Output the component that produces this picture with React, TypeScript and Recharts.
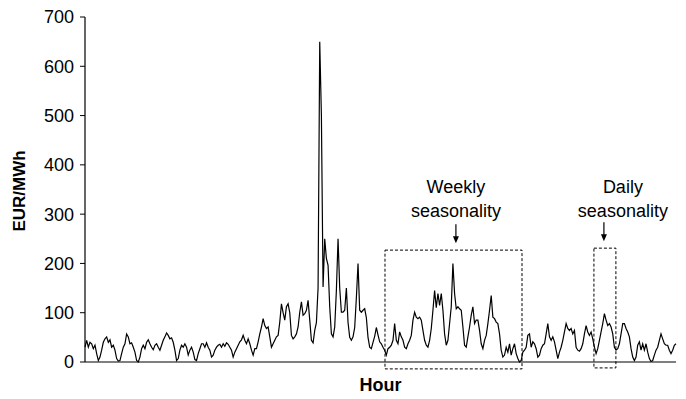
import { LineChart, Line, XAxis, YAxis, ReferenceArea, ReferenceDot } from "recharts";

// hourly prices, EUR/MWh in four stretches
const priceA = [
  30, 44, 30, 40, 37, 27, 34, 17, 3, 10, 24, 40, 47, 51, 40, 45, 30, 34, 24, 7,
  2, 3, 17, 30, 37, 57, 51, 37, 39, 30, 20, 3, 0, 10, 27, 34, 27, 40, 45, 37,
  30, 25, 34, 37, 30, 24, 34, 44, 51, 59, 54, 47, 49, 40, 24, 3, 7, 24, 34, 30,
  37, 30, 14, 24, 30, 20, 5, 3, 17, 27, 37, 37, 30, 39, 30, 24, 10, 14, 24, 30,
  34, 36, 30, 37, 32, 39, 36, 30, 24, 10, 20,
];
const priceB = [
  27, 34, 41, 45, 54, 44, 37, 47, 37, 24, 14, 27, 27, 41, 57, 71, 88, 74, 68, 71,
  51, 30, 37, 44, 51, 54, 81, 118, 100, 85, 112, 118, 100, 54, 47, 51, 57, 71, 101, 122,
  95, 98, 105, 125, 85, 44, 39, 64, 80, 150, 650, 500, 152, 250, 210, 196, 112, 57, 51, 71,
  145, 250, 150, 101, 101, 105, 150, 80, 50, 44, 51, 70, 130, 200, 105, 101, 105, 108, 90, 50,
  30, 27, 40, 52, 70, 55, 41, 37,
];
const priceC = [
  30, 24, 14, 27, 30, 34, 44, 78, 44, 37, 61, 51, 44, 30, 27, 37, 44, 54, 85, 101,
  91, 88, 91, 85, 64, 44, 34, 30, 44, 68, 105, 145, 110, 139, 115, 139, 105, 57, 34, 44,
  78, 112, 200, 139, 108, 112, 108, 105, 71, 34, 30, 51, 71, 95, 112, 78, 85, 85, 64, 37,
  27, 44, 54, 78, 105, 135, 91, 88, 81, 78, 57, 24, 10, 14, 30, 20, 37, 14, 27, 37,
  17, 7, 0, 3, 20, 24, 30, 54, 57,
];
const priceD = [
  30, 41, 37, 27, 10, 14, 27, 34, 37, 57, 78, 51, 44, 51, 41, 24, 7, 20, 30, 44,
  61, 78, 68, 64, 68, 57, 64, 30, 24, 22, 27, 37, 57, 74, 61, 54, 61, 47, 30, 17,
  27, 44, 61, 78, 98, 85, 74, 78, 71, 57, 30, 24, 27, 37, 57, 78, 78, 68, 61, 51,
  27, 10, 3, 10, 34, 41, 24, 37, 24, 37, 20, 7, 1, 3, 14, 24, 30, 44, 57, 47,
  37, 34, 34, 24, 17, 24, 34, 37,
];

const yTicks = [0, 100, 200, 300, 400, 500, 600, 700];

const prices = [...priceA, ...priceB, ...priceC, ...priceD];
const data = prices.map((p, h) => ({ hour: h, price: p }));
const lastHour = prices.length - 1;

const FONT = "'Liberation Sans', Arial, Helvetica, sans-serif";

function ArrowDown(props: any) {
  const { cx, cy } = props;
  return (
    <g>
      <line x1={cx} y1={cy - 19} x2={cx} y2={cy - 6} stroke="#000" strokeWidth={1.2} />
      <path d={`M${cx - 3},${cy - 7} L${cx + 3},${cy - 7} L${cx},${cy} Z`} fill="#000" />
    </g>
  );
}

function twoLines(top: string, bottom: string) {
  return (props: any) => {
    const { cx, cy } = props;
    return (
      <text textAnchor="middle" fontFamily={FONT} fontSize={18} fill="#000">
        <tspan x={cx} y={cy}>{top}</tspan>
        <tspan x={cx} y={cy + 24}>{bottom}</tspan>
      </text>
    );
  };
}

export default function App() {
  return (
    <div style={{ position: "absolute", left: 0, top: 0, background: "#fff" }}>
      <LineChart
        width={686}
        height={399}
        data={data}
        margin={{ top: 17, right: 10, bottom: 7, left: 0 }}
      >
        <XAxis
          dataKey="hour"
          type="number"
          domain={[0, lastHour]}
          tick={false}
          tickLine={false}
          height={30}
          axisLine={{ stroke: "#000", strokeWidth: 1.2 }}
          label={{
            value: "Hour",
            position: "insideBottom",
            offset: 1,
            fontFamily: FONT,
            fontSize: 18,
            fontWeight: "bold",
            fill: "#000",
          }}
        />
        <YAxis
          width={85}
          domain={[0, 700]}
          ticks={yTicks}
          tickSize={5}
          tickMargin={6}
          interval={0}
          axisLine={{ stroke: "#000", strokeWidth: 1.2 }}
          tickLine={{ stroke: "#000" }}
          tick={{ fill: "#000", fontSize: 18, fontFamily: FONT }}
          label={(p: any) => (
            <text
              x={25}
              y={191}
              transform="rotate(-90 25 191)"
              textAnchor="middle"
              fontFamily={FONT}
              fontSize={17}
              fontWeight="bold"
              fill="#000"
            >
              EUR/MWh
            </text>
          )}
        />
        <Line
          type="linear"
          dataKey="price"
          stroke="#000"
          strokeWidth={1.2}
          dot={false}
          isAnimationActive={false}
        />
        <ReferenceArea
          x1={180.2}
          x2={262.5}
          y1={-14}
          y2={227}
          fill="none"
          stroke="#000"
          strokeDasharray="3 2"
          ifOverflow="visible"
        />
        <ReferenceArea
          x1={305.7}
          x2={318.9}
          y1={-12}
          y2={231}
          fill="none"
          stroke="#000"
          strokeDasharray="3 2"
          ifOverflow="visible"
        />
        <ReferenceDot x={222.8} y={241} ifOverflow="visible" shape={ArrowDown} />
        <ReferenceDot x={311.7} y={245} ifOverflow="visible" shape={ArrowDown} />
        <ReferenceDot x={222.8} y={343} ifOverflow="visible" shape={twoLines("Weekly", "seasonality")} />
        <ReferenceDot x={323.1} y={343} ifOverflow="visible" shape={twoLines("Daily", "seasonality")} />
      </LineChart>
    </div>
  );
}
